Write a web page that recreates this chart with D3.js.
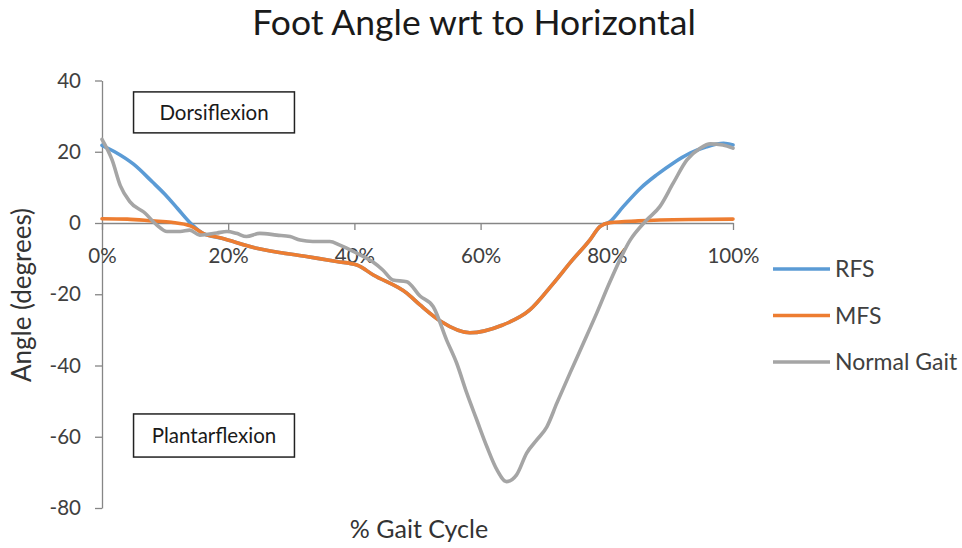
<!DOCTYPE html>
<html>
<head>
<meta charset="utf-8">
<script src="https://cdn.jsdelivr.net/npm/d3@7"></script>
<style>
  body { margin: 0; background: #fff; }
  svg text { font-family: Lato, 'Open Sans', sans-serif; }
  .axis path, .axis line { stroke: #868686; stroke-width: 1.3; }
  .axis text { fill: #404040; font-size: 20.5px; }
  .series { fill: none; stroke-width: 3.6; stroke-linejoin: round; stroke-linecap: round; }
</style>
</head>
<body>
<div class="chart"></div>
<script>
// % of gait cycle vs. foot angle (degrees)
const rfsPct = [0, 2, 5, 8, 10, 12, 14, 16, 19, 24.5, 32.4, 37.2, 40.4, 43, 48.3, 50.4, 53.6, 58.3, 63.4, 67.8, 71.5, 74.5, 77.3, 78.9, 80.5, 82.6, 85.3, 87.9, 90.5, 93.2, 95.8, 98.5, 100];
const rfsDeg = [21.8, 20, 16.5, 11.5, 8, 4, 0, -2.9, -4.3, -7.1, -9.4, -10.8, -11.8, -14.6, -19.7, -23, -27.5, -30.8, -28.7, -24.4, -17, -10.5, -4.8, -1, 0.4, 4.6, 9.7, 13.5, 16.8, 19.6, 21.4, 22.4, 21.9];

const mfsPct = [0, 4, 8, 11, 14, 16, 19, 24.5, 32.4, 37.2, 40.4, 43, 48.3, 50.4, 53.6, 58.3, 63.4, 67.8, 71.5, 74.5, 77.3, 78.9, 80.5, 85, 93, 100];
const mfsDeg = [1.2, 1.1, 0.6, 0.2, -0.8, -2.9, -4.3, -7.1, -9.4, -10.8, -11.8, -14.6, -19.7, -23, -27.5, -30.8, -28.7, -24.4, -17, -10.5, -4.8, -1, 0.1, 0.6, 1, 1.1];

const normalPct = [0, 1.6, 2.9, 4.4, 6.8, 8.7, 10.3, 12.4, 13.9, 15.5, 18.2, 19.8, 21.3, 22.9, 25, 27.7, 29.8, 31.4, 33.4, 36.1, 37.7, 40.4, 42.9, 44.5, 46.1, 48.3, 50.4, 52.5, 54.6, 56.2, 57.8, 59.4, 61, 62.6, 64.1, 65.7, 67.3, 68.9, 70.5, 72.1, 74.2, 76.3, 78.4, 80.5, 83.7, 86.3, 88.4, 90.5, 92.7, 94.8, 96.4, 98.4, 100];
const normalDeg = [23.5, 17.7, 10.5, 6, 2.8, -0.6, -2.4, -2.4, -2, -3.4, -2.8, -2.4, -2.9, -3.8, -2.9, -3.4, -3.8, -4.8, -5.2, -5.2, -6.2, -8.5, -10.9, -13.2, -16, -16.5, -20.5, -23.5, -32.8, -39.3, -47.7, -55.3, -62.8, -69.3, -72.6, -70.7, -64.6, -60.9, -57.2, -50.5, -42, -33.7, -25.3, -16.5, -4.8, 0.8, 4.6, 11.1, 17.7, 21, 22.2, 21.9, 21];

const seriesNames = ['RFS', 'MFS', 'Normal Gait'];
const seriesColors = ['#5B9BD5', '#ED7D31', '#A5A5A5'];
const xTicks = [0, 20, 40, 60, 80, 100];
const yTicks = [40, 20, 0, -20, -40, -60, -80];

const notes = [
  { text: 'Dorsiflexion', x0: 5, x1: 30.5, y0: 36.8, y1: 25.3 },
  { text: 'Plantarflexion', x0: 5, x1: 30.5, y0: -53.6, y1: -65.7 }
];

function drawGraph() {
  const W = 962, H = 548;
  const x = d3.scaleLinear().domain([0, 100]).range([102, 733]);
  const y = d3.scaleLinear().domain([-80, 40]).range([508, 80.5]);

  const svg = d3
    .select('.chart')
    .append('svg')
    .attr('width', W)
    .attr('height', H);

  svg
    .append('text')
    .attr('x', 474)
    .attr('y', 35)
    .attr('text-anchor', 'middle')
    .attr('font-size', 35.5)
    .attr('fill', '#1a1a1a')
    .text('Foot Angle wrt to Horizontal');

  // annotation boxes
  const note = svg.selectAll('.note').data(notes).enter().append('g').attr('class', 'note');
  note
    .append('rect')
    .attr('x', d => x(d.x0))
    .attr('y', d => y(d.y0))
    .attr('width', d => x(d.x1) - x(d.x0))
    .attr('height', d => y(d.y1) - y(d.y0))
    .attr('fill', '#fff')
    .attr('stroke', '#222')
    .attr('stroke-width', 1.5);
  note
    .append('text')
    .attr('x', d => (x(d.x0) + x(d.x1)) / 2)
    .attr('y', d => (y(d.y0) + y(d.y1)) / 2)
    .attr('dy', '0.36em')
    .attr('text-anchor', 'middle')
    .attr('font-size', 20.5)
    .attr('fill', '#1a1a1a')
    .text(d => d.text);

  svg
    .append('g')
    .attr('class', 'axis')
    .attr('transform', `translate(${x(0)},0)`)
    .call(
      d3
        .axisLeft(y)
        .tickValues(yTicks)
        .tickSize(7)
        .tickPadding(14)
        .tickSizeOuter(0)
        .tickFormat(d => String(d)),
    );

  const xAxis = svg
    .append('g')
    .attr('class', 'axis')
    .attr('transform', `translate(0,${y(0)})`)
    .call(
      d3
        .axisBottom(x)
        .tickValues(xTicks)
        .tickSize(7)
        .tickSizeOuter(0)
        .tickFormat(d => d + '%'),
    );
  xAxis.selectAll('text').attr('y', 40).attr('dy', 0);

  const line = d3
    .line()
    .x(d => x(d[0]))
    .y(d => y(d[1]))
    .curve(d3.curveMonotoneX);

  const series = [
    d3.zip(rfsPct, rfsDeg),
    d3.zip(mfsPct, mfsDeg),
    d3.zip(normalPct, normalDeg)
  ];

  svg
    .selectAll('.series')
    .data(series)
    .enter()
    .append('path')
    .attr('class', 'series')
    .attr('stroke', (d, i) => seriesColors[i])
    .attr('d', line);

  // legend
  const legend = svg
    .selectAll('.legend')
    .data(seriesNames)
    .enter()
    .append('g')
    .attr('class', 'legend')
    .attr('transform', (d, i) => `translate(773,${269 + i * 46.5})`);
  legend
    .append('line')
    .attr('x1', 0)
    .attr('x2', 57)
    .attr('stroke', (d, i) => seriesColors[i])
    .attr('stroke-width', 3.6);
  legend
    .append('text')
    .attr('x', 62)
    .attr('dy', '0.36em')
    .attr('font-size', 23)
    .attr('fill', '#404040')
    .text(d => d);

  svg
    .append('text')
    .attr('x', 419)
    .attr('y', 538)
    .attr('text-anchor', 'middle')
    .attr('font-size', 25)
    .attr('fill', '#333')
    .text('% Gait Cycle');

  svg
    .append('text')
    .attr('transform', 'translate(31,295) rotate(-90)')
    .attr('text-anchor', 'middle')
    .attr('font-size', 26)
    .attr('fill', '#333')
    .text('Angle (degrees)');
}

drawGraph();
</script>
</body>
</html>
